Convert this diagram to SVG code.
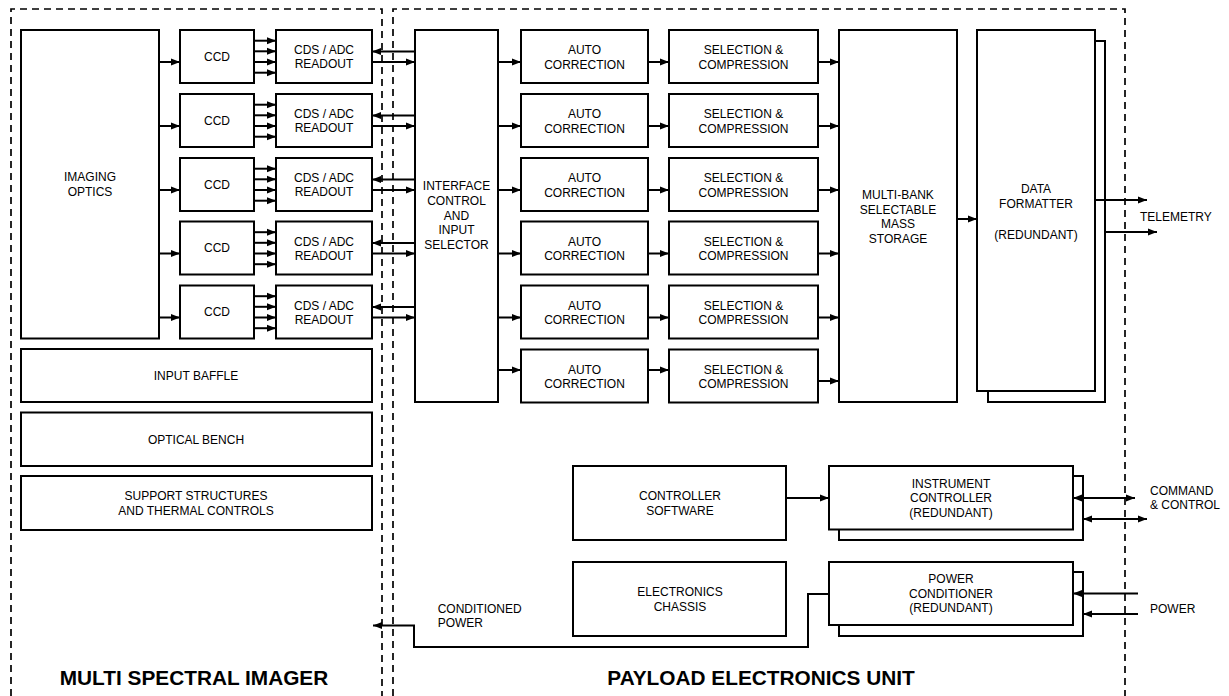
<svg xmlns="http://www.w3.org/2000/svg" width="1229" height="696" viewBox="0 0 1229 696">
<defs>
<marker id="ah" markerWidth="10" markerHeight="8" refX="9" refY="4" orient="auto-start-reverse" markerUnits="userSpaceOnUse"><path d="M0,0.5 L9,4 L0,7.5 z" fill="#000"/></marker>
<style>
.b{fill:#fff;stroke:#000;stroke-width:2}
.t{font-family:"Liberation Sans",Arial,Helvetica,sans-serif;font-size:12px;fill:#000;text-anchor:middle}
.l{text-anchor:start}
.h{font-family:"Liberation Sans",Arial,Helvetica,sans-serif;font-size:20.8px;font-weight:bold;fill:#000;text-anchor:middle}
.c{fill:none;stroke:#000;stroke-width:2;marker-end:url(#ah)}
.cc{fill:none;stroke:#000;stroke-width:2;marker-end:url(#ah);marker-start:url(#ah)}
.p{fill:none;stroke:#000;stroke-width:2}
.d{fill:none;stroke:#000;stroke-width:1.7;stroke-dasharray:7 5}
</style>
</defs>
<rect width="1229" height="696" fill="#fff"/>

<g id="boundaries">
<path class="d" d="M11,696 V9 H382 V696"/>
<path class="d" d="M393,696 V9 H1125 V696"/>
<text class="h" x="194" y="685">MULTI SPECTRAL IMAGER</text>
<text class="h" x="761" y="685">PAYLOAD ELECTRONICS UNIT</text>
</g>

<g id="imaging-optics"><rect class="b" x="21" y="30" width="138" height="308.5"/><text class="t" x="90" y="181">IMAGING</text><text class="t" x="90" y="195.5">OPTICS</text></g>

<g id="ccd-1"><rect class="b" x="180" y="30" width="74" height="53"/><text class="t" x="217" y="60.8">CCD</text></g>
<g id="ccd-2"><rect class="b" x="180" y="94" width="74" height="53"/><text class="t" x="217" y="124.8">CCD</text></g>
<g id="ccd-3"><rect class="b" x="180" y="158" width="74" height="53"/><text class="t" x="217" y="188.8">CCD</text></g>
<g id="ccd-4"><rect class="b" x="180" y="221.5" width="74" height="53"/><text class="t" x="217" y="252.3">CCD</text></g>
<g id="ccd-5"><rect class="b" x="180" y="285.5" width="74" height="53"/><text class="t" x="217" y="316.3">CCD</text></g>

<g id="cds-1"><rect class="b" x="276" y="30" width="96" height="53"/><text class="t" x="324" y="54">CDS / ADC</text><text class="t" x="324" y="68.3">READOUT</text></g>
<g id="cds-2"><rect class="b" x="276" y="94" width="96" height="53"/><text class="t" x="324" y="118">CDS / ADC</text><text class="t" x="324" y="132.3">READOUT</text></g>
<g id="cds-3"><rect class="b" x="276" y="158" width="96" height="53"/><text class="t" x="324" y="182">CDS / ADC</text><text class="t" x="324" y="196.3">READOUT</text></g>
<g id="cds-4"><rect class="b" x="276" y="221.5" width="96" height="53"/><text class="t" x="324" y="245.5">CDS / ADC</text><text class="t" x="324" y="259.8">READOUT</text></g>
<g id="cds-5"><rect class="b" x="276" y="285.5" width="96" height="53"/><text class="t" x="324" y="309.5">CDS / ADC</text><text class="t" x="324" y="323.8">READOUT</text></g>

<g id="input-baffle"><rect class="b" x="21" y="349" width="351" height="53"/><text class="t" x="196" y="380">INPUT BAFFLE</text></g>
<g id="optical-bench"><rect class="b" x="21" y="412.5" width="351" height="53.5"/><text class="t" x="196" y="443.6">OPTICAL BENCH</text></g>
<g id="support-structures"><rect class="b" x="21" y="476" width="351" height="54"/><text class="t" x="196" y="500">SUPPORT STRUCTURES</text><text class="t" x="196" y="515">AND THERMAL CONTROLS</text></g>

<g id="interface"><rect class="b" x="415" y="30" width="83" height="372"/>
<text class="t" x="456.5" y="190.3">INTERFACE</text><text class="t" x="456.5" y="205">CONTROL</text><text class="t" x="456.5" y="219.7">AND</text><text class="t" x="456.5" y="234.4">INPUT</text><text class="t" x="456.5" y="249.1">SELECTOR</text></g>

<g id="auto-1"><rect class="b" x="521" y="30" width="127" height="53"/><text class="t" x="584.5" y="54">AUTO</text><text class="t" x="584.5" y="68.5">CORRECTION</text></g>
<g id="auto-2"><rect class="b" x="521" y="94" width="127" height="53"/><text class="t" x="584.5" y="118">AUTO</text><text class="t" x="584.5" y="132.5">CORRECTION</text></g>
<g id="auto-3"><rect class="b" x="521" y="158" width="127" height="53"/><text class="t" x="584.5" y="182">AUTO</text><text class="t" x="584.5" y="196.5">CORRECTION</text></g>
<g id="auto-4"><rect class="b" x="521" y="221.5" width="127" height="53"/><text class="t" x="584.5" y="245.5">AUTO</text><text class="t" x="584.5" y="260">CORRECTION</text></g>
<g id="auto-5"><rect class="b" x="521" y="285.5" width="127" height="53"/><text class="t" x="584.5" y="309.5">AUTO</text><text class="t" x="584.5" y="324">CORRECTION</text></g>
<g id="auto-6"><rect class="b" x="521" y="349.5" width="127" height="53"/><text class="t" x="584.5" y="373.5">AUTO</text><text class="t" x="584.5" y="388">CORRECTION</text></g>

<g id="sel-1"><rect class="b" x="669" y="30" width="149" height="53"/><text class="t" x="743.5" y="54">SELECTION &amp;</text><text class="t" x="743.5" y="68.5">COMPRESSION</text></g>
<g id="sel-2"><rect class="b" x="669" y="94" width="149" height="53"/><text class="t" x="743.5" y="118">SELECTION &amp;</text><text class="t" x="743.5" y="132.5">COMPRESSION</text></g>
<g id="sel-3"><rect class="b" x="669" y="158" width="149" height="53"/><text class="t" x="743.5" y="182">SELECTION &amp;</text><text class="t" x="743.5" y="196.5">COMPRESSION</text></g>
<g id="sel-4"><rect class="b" x="669" y="221.5" width="149" height="53"/><text class="t" x="743.5" y="245.5">SELECTION &amp;</text><text class="t" x="743.5" y="260">COMPRESSION</text></g>
<g id="sel-5"><rect class="b" x="669" y="285.5" width="149" height="53"/><text class="t" x="743.5" y="309.5">SELECTION &amp;</text><text class="t" x="743.5" y="324">COMPRESSION</text></g>
<g id="sel-6"><rect class="b" x="669" y="349.5" width="149" height="53"/><text class="t" x="743.5" y="373.5">SELECTION &amp;</text><text class="t" x="743.5" y="388">COMPRESSION</text></g>

<g id="mass-storage"><rect class="b" x="839" y="30" width="118" height="372"/>
<text class="t" x="898" y="198.8">MULTI-BANK</text><text class="t" x="898" y="213.5">SELECTABLE</text><text class="t" x="898" y="228.2">MASS</text><text class="t" x="898" y="242.9">STORAGE</text></g>

<g id="data-formatter"><rect class="b" x="988" y="41" width="117" height="361"/><rect class="b" x="977" y="30" width="118" height="361"/>
<text class="t" x="1036" y="193.3">DATA</text><text class="t" x="1036" y="207.8">FORMATTER</text><text class="t" x="1036" y="238.6">(REDUNDANT)</text></g>

<g id="controller-software"><rect class="b" x="573" y="466" width="213" height="74"/><text class="t" x="680" y="500">CONTROLLER</text><text class="t" x="680" y="515.3">SOFTWARE</text></g>
<g id="instrument-controller"><rect class="b" x="839" y="476" width="244" height="64"/><rect class="b" x="829" y="466" width="244" height="63.5"/>
<text class="t" x="951" y="487.8">INSTRUMENT</text><text class="t" x="951" y="502.3">CONTROLLER</text><text class="t" x="951" y="516.8">(REDUNDANT)</text></g>
<g id="electronics-chassis"><rect class="b" x="573" y="562" width="213" height="74"/><text class="t" x="680" y="596">ELECTRONICS</text><text class="t" x="680" y="611">CHASSIS</text></g>
<g id="power-conditioner"><rect class="b" x="839" y="572" width="244" height="64"/><rect class="b" x="829" y="562" width="244" height="63"/>
<text class="t" x="951" y="582.8">POWER</text><text class="t" x="951" y="597.5">CONDITIONER</text><text class="t" x="951" y="612.2">(REDUNDANT)</text></g>

<g id="labels">
<text class="t l" x="1140" y="221">TELEMETRY</text>
<text class="t l" x="1150" y="495">COMMAND</text>
<text class="t l" x="1150" y="508.5">&amp; CONTROL</text>
<text class="t l" x="1150" y="613">POWER</text>
<text class="t l" x="437.7" y="612.6">CONDITIONED</text>
<text class="t l" x="437.7" y="627">POWER</text>
</g>

<g id="connectors">
<!-- optics to CCD -->
<line class="c" x1="159" y1="62" x2="180" y2="62"/>
<line class="c" x1="159" y1="126" x2="180" y2="126"/>
<line class="c" x1="159" y1="190" x2="180" y2="190"/>
<line class="c" x1="159" y1="253.5" x2="180" y2="253.5"/>
<line class="c" x1="159" y1="317.5" x2="180" y2="317.5"/>
<!-- CCD to CDS -->
<line class="c" x1="254" y1="40.7" x2="276" y2="40.7"/><line class="c" x1="254" y1="51.3" x2="276" y2="51.3"/><line class="c" x1="254" y1="62" x2="276" y2="62"/><line class="c" x1="254" y1="72.7" x2="276" y2="72.7"/>
<line class="c" x1="254" y1="104.7" x2="276" y2="104.7"/><line class="c" x1="254" y1="115.3" x2="276" y2="115.3"/><line class="c" x1="254" y1="126" x2="276" y2="126"/><line class="c" x1="254" y1="136.7" x2="276" y2="136.7"/>
<line class="c" x1="254" y1="168.7" x2="276" y2="168.7"/><line class="c" x1="254" y1="179.3" x2="276" y2="179.3"/><line class="c" x1="254" y1="190" x2="276" y2="190"/><line class="c" x1="254" y1="200.7" x2="276" y2="200.7"/>
<line class="c" x1="254" y1="232.2" x2="276" y2="232.2"/><line class="c" x1="254" y1="242.8" x2="276" y2="242.8"/><line class="c" x1="254" y1="253.5" x2="276" y2="253.5"/><line class="c" x1="254" y1="264.2" x2="276" y2="264.2"/>
<line class="c" x1="254" y1="296.2" x2="276" y2="296.2"/><line class="c" x1="254" y1="306.8" x2="276" y2="306.8"/><line class="c" x1="254" y1="317.5" x2="276" y2="317.5"/><line class="c" x1="254" y1="328.2" x2="276" y2="328.2"/>
<!-- interface <-> CDS -->
<line class="c" x1="415" y1="51.5" x2="372" y2="51.5"/><line class="c" x1="372" y1="62" x2="415" y2="62"/>
<line class="c" x1="415" y1="115.5" x2="372" y2="115.5"/><line class="c" x1="372" y1="126" x2="415" y2="126"/>
<line class="c" x1="415" y1="179.5" x2="372" y2="179.5"/><line class="c" x1="372" y1="190" x2="415" y2="190"/>
<line class="c" x1="415" y1="243" x2="372" y2="243"/><line class="c" x1="372" y1="253.5" x2="415" y2="253.5"/>
<line class="c" x1="415" y1="307" x2="372" y2="307"/><line class="c" x1="372" y1="317.5" x2="415" y2="317.5"/>
<!-- interface to auto -->
<line class="c" x1="498" y1="62" x2="521" y2="62"/>
<line class="c" x1="498" y1="126" x2="521" y2="126"/>
<line class="c" x1="498" y1="190" x2="521" y2="190"/>
<line class="c" x1="498" y1="253.5" x2="521" y2="253.5"/>
<line class="c" x1="498" y1="317.5" x2="521" y2="317.5"/>
<line class="c" x1="498" y1="370" x2="521" y2="370"/>
<!-- auto to selection -->
<line class="c" x1="648" y1="62" x2="669" y2="62"/>
<line class="c" x1="648" y1="126" x2="669" y2="126"/>
<line class="c" x1="648" y1="190" x2="669" y2="190"/>
<line class="c" x1="648" y1="253.5" x2="669" y2="253.5"/>
<line class="c" x1="648" y1="317.5" x2="669" y2="317.5"/>
<line class="c" x1="648" y1="370" x2="669" y2="370"/>
<!-- selection to mass storage -->
<line class="c" x1="818" y1="62" x2="839" y2="62"/>
<line class="c" x1="818" y1="126" x2="839" y2="126"/>
<line class="c" x1="818" y1="190" x2="839" y2="190"/>
<line class="c" x1="818" y1="253.5" x2="839" y2="253.5"/>
<line class="c" x1="818" y1="317.5" x2="839" y2="317.5"/>
<line class="c" x1="818" y1="381" x2="839" y2="381"/>
<!-- mass storage to formatter -->
<line class="c" x1="957" y1="219" x2="977" y2="219"/>
<!-- telemetry -->
<line class="c" x1="1095" y1="200" x2="1147" y2="200"/>
<line class="c" x1="1105" y1="232" x2="1157" y2="232"/>
<!-- controller software to instrument controller -->
<line class="c" x1="786" y1="498" x2="829" y2="498"/>
<!-- command and control -->
<line class="cc" x1="1073" y1="498" x2="1135" y2="498"/>
<line class="cc" x1="1083" y1="519" x2="1147" y2="519"/>
<!-- power in -->
<line class="c" x1="1138" y1="593.5" x2="1073" y2="593.5"/>
<line class="c" x1="1138" y1="614" x2="1083" y2="614"/>
<!-- conditioned power -->
<path class="c" d="M829,594 H808 V647 H414 V625.5 H373"/>
</g>
</svg>
